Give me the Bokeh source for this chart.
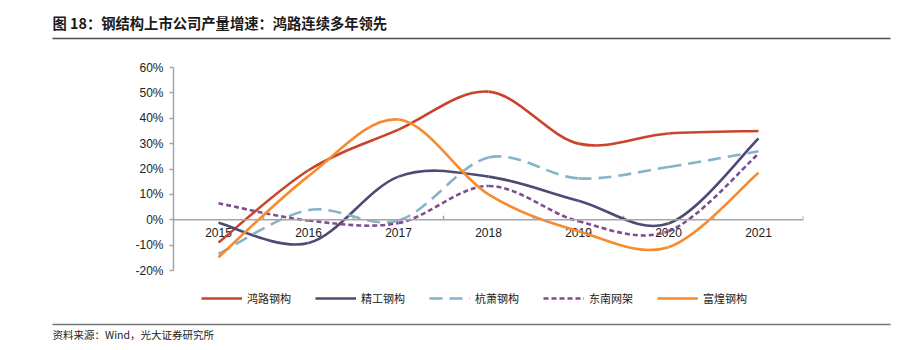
import numpy as np
from bokeh.plotting import figure
from bokeh.layouts import column
from bokeh.models import (Range1d, NumeralTickFormatter, FixedTicker, Span,
                          Legend, LegendItem, ColumnDataSource)
from bokeh.core.properties import value
from bokeh.embed import file_html
from bokeh.resources import INLINE

# ---------------- data ----------------
years = ["2015", "2016", "2017", "2018", "2019", "2020", "2021"]
names = ["鸿路钢构", "精工钢构", "杭萧钢构", "东南网架", "富煌钢构"]
honglu = [-0.090, 0.195, 0.355, 0.505, 0.300, 0.340, 0.350]
jinggong = [-0.012, -0.092, 0.170, 0.170, 0.075, -0.015, 0.320]
hangxiao = [-0.135, 0.038, -0.003, 0.245, 0.163, 0.208, 0.270]
dongnan = [0.065, -0.003, -0.013, 0.133, -0.006, -0.045, 0.260]
fuhuang = [-0.148, 0.172, 0.395, 0.100, -0.045, -0.108, 0.185]
y_ticks = [-0.2, -0.1, 0.0, 0.1, 0.2, 0.3, 0.4, 0.5, 0.6]
title_text = "图 18：钢结构上市公司产量增速：鸿路连续多年领先"
source_text = "资料来源：Wind，光大证券研究所"

series = [honglu, jinggong, hangxiao, dongnan, fuhuang]
colors = ["#C9442A", "#4C4B74", "#86B2CA", "#7D4F8E", "#F68B2F"]
dashes = ["solid", "solid", "13 7", "5 3", "solid"]

CJK = "Noto Sans CJK SC"
LAT = "Liberation Sans"
W = 912


def no_align(fig):
    try:
        fig.frame_align = False
    except Exception:
        pass


def blank(fig):
    fig.outline_line_color = None
    fig.xgrid.visible = False
    fig.ygrid.visible = False
    fig.xaxis.visible = False
    fig.yaxis.visible = False
    fig.background_fill_color = "white"
    fig.border_fill_color = "white"
    no_align(fig)


# ---------------- header (title + rule) ----------------
TH = 45
top = figure(width=W, height=TH, output_backend="svg", toolbar_location=None,
             x_range=Range1d(0, W), y_range=Range1d(TH, 0), min_border=0)
blank(top)
top.text(x=[52], y=[22], text=[title_text], text_font=value(CJK),
         text_font_style="bold", text_font_size="14.3px", text_color="#1a1a1a",
         text_baseline="middle", text_align="left")
top.segment(x0=[52], y0=[38], x1=[890], y1=[38], line_color="#4d4d4d", line_width=1.5)

# ---------------- main chart ----------------
MH = 240
p = figure(width=W, height=MH, output_backend="svg", toolbar_location=None,
           x_range=Range1d(-0.5, len(years) - 0.5), y_range=Range1d(-0.2, 0.6),
           min_border_left=173, min_border_right=109, min_border_top=22,
           min_border_bottom=15)
p.outline_line_color = None
p.xgrid.visible = False
p.ygrid.visible = False
p.xaxis.visible = False
p.background_fill_color = "white"
p.border_fill_color = "white"
no_align(p)

ax = p.yaxis[0]
ax.ticker = FixedTicker(ticks=y_ticks)
ax.formatter = NumeralTickFormatter(format="0%")
ax.axis_line_color = "#A6A6A6"
ax.axis_line_width = 1.5
ax.major_tick_line_color = "#A6A6A6"
ax.major_tick_line_width = 1.5
ax.major_tick_out = 4
ax.major_tick_in = 0
ax.minor_tick_line_color = None
ax.major_label_standoff = 6
ax.major_label_text_font = LAT
ax.major_label_text_font_size = "12px"
ax.major_label_text_color = "#222222"

# category axis drawn at y = 0
p.add_layout(Span(location=0, dimension="width", line_color="#A6A6A6", line_width=1.5))
idx = np.arange(len(years), dtype=float)
p.ray(x=idx + 0.5, y=0, length=4, length_units="screen", angle=np.pi / 2,
      line_color="#A6A6A6", line_width=1.5)
p.text(x=idx, y=0, text=years, y_offset=8, text_align="center", text_baseline="top",
       text_font=value(LAT), text_font_size="12px", text_color="#222222")


def bezier_source(vals):
    ys = np.asarray(vals, dtype=float)
    n = len(ys)
    X = np.concatenate([[idx[0]], idx, [idx[-1]]])
    Y = np.concatenate([[ys[0]], ys, [ys[-1]]])
    prev_x, x0, x1, next_x = X[0:n - 1], X[1:n], X[2:n + 1], X[3:n + 2]
    prev_y, y0, y1, next_y = Y[0:n - 1], Y[1:n], Y[2:n + 1], Y[3:n + 2]
    return ColumnDataSource(dict(
        x0=x0, y0=y0, x1=x1, y1=y1,
        cx0=x0 + (x1 - prev_x) / 6, cy0=y0 + (y1 - prev_y) / 6,
        cx1=x1 - (next_x - x0) / 6, cy1=y1 - (next_y - y0) / 6))


for name, vals, col, dash in zip(names, series, colors, dashes):
    p.bezier(x0="x0", y0="y0", x1="x1", y1="y1", cx0="cx0", cy0="cy0",
             cx1="cx1", cy1="cy1", source=bezier_source(vals),
             line_color=col, line_width=2.6, line_dash=dash)

# ---------------- footer (legend + rule + source) ----------------
BH = 350 - TH - MH
bot = figure(width=W, height=BH, output_backend="svg", toolbar_location=None,
             x_range=Range1d(0, W), y_range=Range1d(BH, 0), min_border=0)
blank(bot)
items = []
for name, col, dash in zip(names, colors, dashes):
    # legend-only renderer: a single undefined point, nothing is drawn in the frame
    r = bot.line(x=[np.nan], y=[np.nan], line_color=col, line_width=2.6, line_dash=dash)
    items.append(LegendItem(label=name, renderers=[r]))
legend = Legend(items=items, orientation="horizontal", location=(201, BH - 21),
                glyph_width=41, glyph_height=12, label_height=12, label_standoff=5,
                spacing=24, padding=0, margin=0, border_line_color=None,
                background_fill_alpha=0, label_text_font=CJK,
                label_text_font_size="11px", label_text_color="#222222")
bot.add_layout(legend)
bot.segment(x0=[52], y0=[39], x1=[890], y1=[39], line_color="#777777", line_width=1.5)
bot.text(x=[52], y=[49], text=[source_text], text_font=value(CJK),
         text_font_size="10.5px", text_color="#222222", text_baseline="middle",
         text_align="left")

layout = column(top, p, bot, spacing=0)
open("out.html", "w").write(file_html(layout, INLINE))
